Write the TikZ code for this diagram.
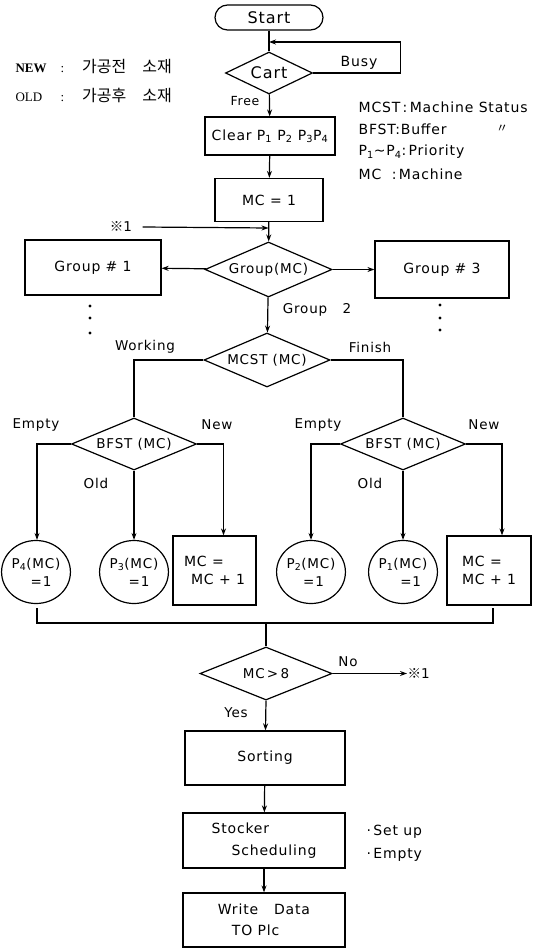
\documentclass[tikz,border=0pt]{standalone}
\usepackage{fontspec}
\setmainfont{DejaVu Sans}[LetterSpace=6]
\newfontfamily\kr{Noto Sans CJK KR}
\newfontfamily\lser{Liberation Serif}
\usetikzlibrary{shapes.geometric,arrows.meta}
\begin{document}
\begin{tikzpicture}[x=1pt,y=-1pt,line width=1.2pt,
  >={Stealth[length=7pt,width=5pt]},
  fs/.style={font=\fontsize{#1}{20}\selectfont},
  box/.style={draw,rectangle,inner sep=0pt,fs=14},
  dia/.style={draw,diamond,aspect=2.5,inner sep=0pt,fs=13.5},
  circ/.style={draw,ellipse,inner sep=0pt,minimum width=66pt,minimum height=63pt,align=center,fs=13.5},
  lab/.style={inner sep=0pt,fs=13.5},
  dot/.style={fill,circle,inner sep=0pt,minimum size=3.2pt}]
\useasboundingbox (0,0) rectangle (534,949);

% legends
\node[lab,anchor=west] (lnew) at (15,67) {\makebox[45pt][l]{\lser\bfseries\fontsize{13}{15}\selectfont NEW}{\lser\fontsize{13}{15}\selectfont :}\hspace{18pt}{\kr\fontsize{16}{18}\selectfont 가공전}\hspace{16pt}{\kr\fontsize{16}{18}\selectfont 소재}};
\node[lab,anchor=west] (lold) at (15,95) {\makebox[45pt][l]{\lser\fontsize{13}{15}\selectfont OLD}{\lser\fontsize{13}{15}\selectfont :}\hspace{18pt}{\kr\fontsize{16}{18}\selectfont 가공후}\hspace{16pt}{\kr\fontsize{16}{18}\selectfont 소재}};
\node[lab,anchor=west,fs=14] (lmcst) at (358,107) {MCST\,:\,Machine\ Status};
\node[lab,anchor=west,fs=14] (lbfst) at (358,129) {BFST:Buffer};
\node[lab] (ldit) at (502,129) {{\kr\fontsize{12}{14}\selectfont 〃}};
\node[lab,anchor=west,fs=14] (lpri) at (358,152) {P\textsubscript{1}∼P\textsubscript{4}:\,Priority};
\node[lab,anchor=west,fs=14] (lmc) at (358,174) {MC\ \ :\,Machine};

% main nodes
\node[box,rounded corners=12.5pt,minimum width=108pt,minimum height=25pt,fs=16] (start) at (269,17.5) {Start};
\node[dia,minimum width=87pt,minimum height=42pt,fs=16] (cart) at (269,73) {Cart};
\node[box,minimum width=130pt,minimum height=38pt] (clear) at (270,136) {Clear P\textsubscript{1} P\textsubscript{2} P\textsubscript{3}P\textsubscript{4}};
\node[box,minimum width=108pt,minimum height=43pt] (mc1) at (269,200) {MC = 1};
\node[dia,minimum width=127pt,minimum height=55pt] (grp) at (268.5,269.5) {Group(MC)};
\node[box,minimum width=136pt,minimum height=55pt,fs=14] (g1) at (93,267.5) {Group \# 1};
\node[box,minimum width=134pt,minimum height=57pt,fs=14] (g3) at (442,269.5) {Group \# 3};
\node[dia,minimum width=126pt,minimum height=54pt] (mcst) at (267,360) {MCST (MC)};
\node[dia,minimum width=125pt,minimum height=52pt] (bf1) at (134,444) {BFST (MC)};
\node[dia,minimum width=125pt,minimum height=52pt] (bf2) at (403,444) {BFST (MC)};
\node[circ] (c4) at (36,572) {P\textsubscript{4}(MC)\\[-2pt]\ \ =1};
\node[circ] (c3) at (134,572) {P\textsubscript{3}(MC)\\[-2pt]\ \ =1};
\node[box,minimum width=83pt,minimum height=69pt,align=left,fs=14] (m1) at (214.5,570.5) {MC =\\[-2pt]\hspace{7pt}MC + 1};
\node[circ] (c2) at (311,572) {P\textsubscript{2}(MC)\\[-2pt]\ =1};
\node[circ] (c1) at (403,572) {P\textsubscript{1}(MC)\\[-2pt]\ \ \ =1};
\node[box,minimum width=84pt,minimum height=69pt,align=left,fs=14] (m2) at (489,570.5) {MC =\\[-2pt]MC + 1};
\node[dia,minimum width=132pt,minimum height=53pt] (mc8) at (266,673.5) {MC\,>\,8};
\node[box,minimum width=160pt,minimum height=54pt] (sort) at (265,758) {Sorting};
\node[box,minimum width=162pt,minimum height=55pt,align=left] (stock) at (264,840.5) {Stocker\\[2pt]\hspace{20pt}Scheduling};
\node[box,minimum width=162pt,minimum height=54pt,align=left] (write) at (264,920) {Write\ \ \ Data\\[1pt]\hspace{14pt}TO Plc};

% references
\node[lab] (ref1) at (121,227) {{\kr ※}1};
\node[lab,anchor=west] (ref2) at (407,673.5) {{\kr ※}1};

% labels
\node[lab,fs=12.5] (lfree) at (245,101) {Free};
\node[lab,fs=14] (lbusy) at (359,63) {Busy};
\node[lab] (lg2) at (317,310) {Group\ \ \ 2};
\node[lab] (lwork) at (145,347) {Working};
\node[lab] (lfin) at (370,347) {Finish};
\node[lab] (le1) at (36,425) {Empty};
\node[lab] (ln1) at (217,425) {New};
\node[lab] (lo1) at (96,483) {Old};
\node[lab] (le2) at (318,425) {Empty};
\node[lab] (ln2) at (484,425) {New};
\node[lab] (lo2) at (370,483) {Old};
\node[lab] (lno) at (348,662) {No};
\node[lab] (lyes) at (236,713) {Yes};
\node[lab,anchor=west,fs=14] (lsu) at (366,832) {·\,Set up};
\node[lab,anchor=west,fs=14] (lem) at (366,855) {·\,Empty};

% dots
\node[dot] (d1) at (90,306) {};
\node[dot] (d2) at (90,318) {};
\node[dot] (d3) at (90,333) {};
\node[dot] (d4) at (440,305) {};
\node[dot] (d5) at (440,318) {};
\node[dot] (d6) at (440,330) {};

% coordinates
\coordinate (j1) at (269,42);
\coordinate (j2) at (268.5,228);
\coordinate (bl) at (37,608);
\coordinate (br) at (493,608);
\coordinate (bm) at (266,623);

% connectors
\draw (start) -- (cart);
\draw[->] (cart.east) -- ++(87,0) |- (j1);
\draw[->] (cart) -- (clear);
\draw[->] (clear) -- (mc1);
\draw[->] (mc1) -- (grp);
\draw[->] ([xshift=10pt]ref1.east) -- (j2);
\draw[->] (grp) -- (g1);
\draw[->] (grp) -- (g3);
\draw[->] (grp) -- (mcst);
\draw (mcst.west) -| (bf1.north);
\draw (mcst.east) -| (bf2.north);
\draw[->] (bf1.west) -| ([xshift=1pt]c4.north);
\draw[->] (bf1.south) -- (c3.north);
\draw[->] (bf1.east) -| ([xshift=9pt]m1.north);
\draw[->] (bf2.west) -| (c2.north);
\draw[->] (bf2.south) -- (c1.north);
\draw[->] (bf2.east) -| ([xshift=13pt]m2.north);
\draw (bl) |- (bm) -| (br);
\draw (bm) -- (mc8.north);
\draw[->] (mc8.east) -- (ref2.west);
\draw[->] (mc8.south) -- (sort);
\draw[->] (sort) -- (stock);
\draw[->] (stock) -- (write);
\end{tikzpicture}
\end{document}
